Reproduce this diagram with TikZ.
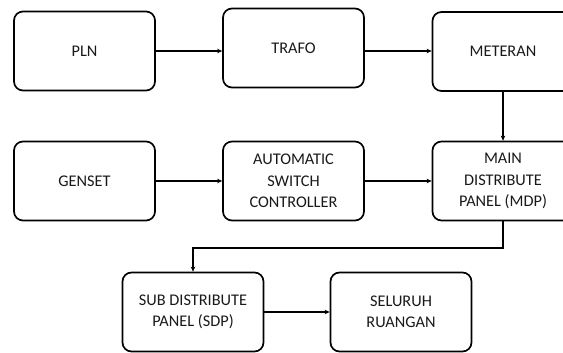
\documentclass[tikz,border=0pt]{standalone}
\usepackage{fontspec}
\setmainfont{Carlito}
\usetikzlibrary{arrows.meta}
\begin{document}
\begin{tikzpicture}[x=1pt,y=-1pt,
    blok/.style={draw,line width=1.7pt,rounded corners=9pt,minimum width=141pt,
        minimum height=79pt,align=center,text=black!90,
        font=\fontsize{16.3}{21.5}\selectfont},
    panah/.style={line width=1.6pt,-{Stealth[length=5pt,width=4.5pt]}}]
    \useasboundingbox (0,0) rectangle (563,353);
    % Draw first row
    \node[blok] (pln) at (84.5,51) {PLN};
    \node[blok] (trafo) at (293.5,48) {TRAFO};
    \node[blok] (meteran) at (503,51.5) {METERAN};
    % Draw second row
    \node[blok] (genset) at (84.5,181) {GENSET};
    \node[blok] (asc) at (293.5,181) {AUTOMATIC\\SWITCH\\CONTROLLER};
    \node[blok] (mdp) at (503,181) {MAIN\\DISTRIBUTE\\PANEL (MDP)};
    % Draw third row
    \node[blok] (sdp) at (193,312) {SUB DISTRIBUTE\\PANEL (SDP)};
    \node[blok] (ruang) at (401,312) {SELURUH\\RUANGAN};
    % Draw connectors
    \draw[panah] (pln.east) -- (pln.east -| trafo.west);
    \draw[panah] (trafo.east |- pln.east) -- (pln.east -| meteran.west);
    \draw[panah] (meteran.south) -- (mdp.north);
    \draw[panah] (genset) -- (asc);
    \draw[panah] (asc) -- (mdp);
    \draw[panah] (mdp.south) -- ++(0,26.5) -| (sdp.north);
    \draw[panah] (sdp) -- (ruang);
\end{tikzpicture}
\end{document}
